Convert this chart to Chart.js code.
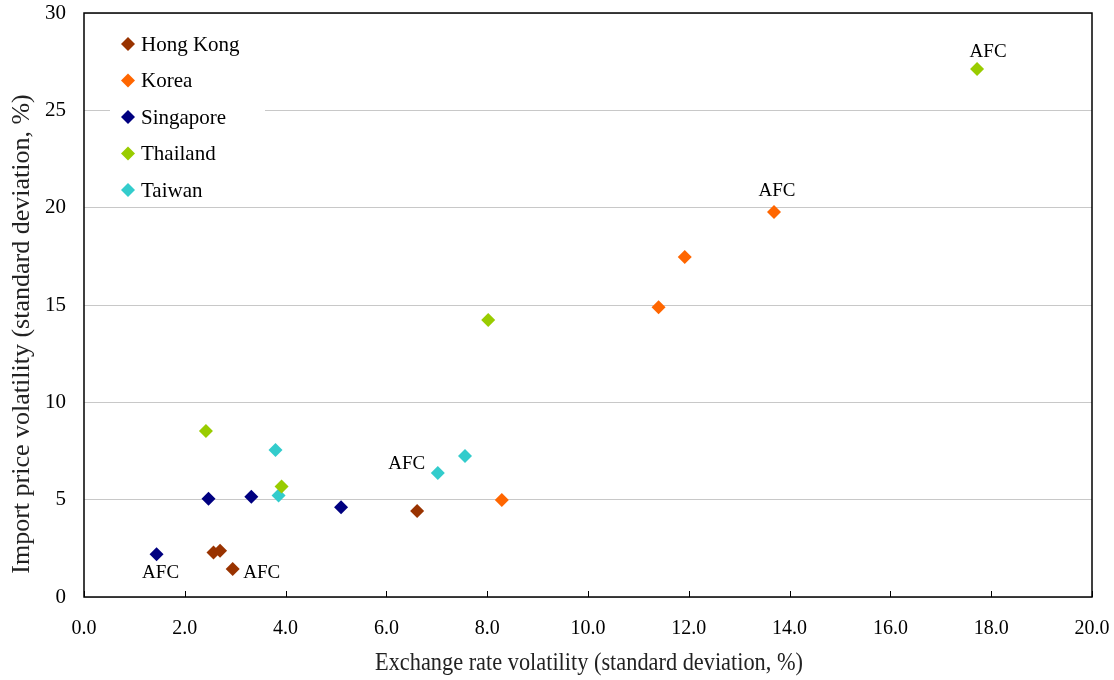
<!DOCTYPE html>
<html>
<head>
    <script src="https://cdn.jsdelivr.net/npm/chart.js"></script>
    <style>
        body { margin: 0; background: #fff; }
    </style>
</head>
<body>
    <div style="width:1114px; height:680px;">
        <canvas id="volChart" width="1114" height="680"></canvas>
    </div>
    <script>
        // values
        const seriesNames = ['Hong Kong', 'Korea', 'Singapore', 'Thailand', 'Taiwan'];
        const seriesColors = ['#993300', '#FF6600', '#000080', '#99CC00', '#33CCCC'];

        const hongKongX = [2.57, 2.70, 2.95, 6.61];
        const hongKongY = [2.28, 2.38, 1.44, 4.42];
        const koreaX = [8.29, 11.40, 11.92, 13.69];
        const koreaY = [4.98, 14.88, 17.47, 19.78];
        const singaporeX = [1.44, 2.47, 3.32, 5.10];
        const singaporeY = [2.19, 5.05, 5.15, 4.61];
        const thailandX = [2.42, 3.92, 8.02, 17.72];
        const thailandY = [8.53, 5.67, 14.23, 27.12];
        const taiwanX = [3.80, 3.86, 7.02, 7.56];
        const taiwanY = [7.55, 5.22, 6.37, 7.24];

        // which point of each series is the AFC one
        const afcIndex = [2, 3, 0, 3, 2];

        const xTicks = [0, 2, 4, 6, 8, 10, 12, 14, 16, 18, 20];
        const yTicks = [0, 5, 10, 15, 20, 25, 30];

        const xTitle = 'Exchange rate volatility (standard deviation, %)';
        const yTitle = 'Import price volatility (standard deviation, %)';

        const allX = [hongKongX, koreaX, singaporeX, thailandX, taiwanX];
        const allY = [hongKongY, koreaY, singaporeY, thailandY, taiwanY];

        // label offsets for the AFC notes (dx, dy from the marker)
        const afcOffsets = [[29, 4], [3, -21], [4, 19], [11, -17], [-31, -9]];

        const serif = "'Liberation Serif', 'DejaVu Serif', serif";

        const datasets = seriesNames.map((name, i) => ({
            label: name,
            data: allX[i].map((x, j) => ({ x: x, y: allY[i][j] })),
            pointStyle: 'rectRot',
            pointRadius: 7,
            pointHoverRadius: 7,
            pointBorderWidth: 0,
            backgroundColor: seriesColors[i],
            borderColor: seriesColors[i]
        }));

        // draw text squeezed to a given width (the original font is narrow)
        function narrowText(ctx, text, x, y, width) {
            const w = ctx.measureText(text).width;
            const k = Math.min(1, width / w);
            ctx.save();
            ctx.translate(x, y);
            ctx.scale(k, 1);
            ctx.fillText(text, 0, 0);
            ctx.restore();
        }

        const decorPlugin = {
            id: 'decor',
            afterDatasetsDraw(chart) {
                const ctx = chart.ctx;
                const a = chart.chartArea;
                const xs = chart.scales.x;
                const ys = chart.scales.y;
                ctx.save();

                // AFC notes
                ctx.fillStyle = '#000';
                ctx.font = '19px ' + serif;
                ctx.textAlign = 'center';
                ctx.textBaseline = 'middle';
                afcIndex.forEach((k, i) => {
                    const px = xs.getPixelForValue(allX[i][k]);
                    const py = ys.getPixelForValue(allY[i][k]);
                    ctx.fillText('AFC', px + afcOffsets[i][0], py + afcOffsets[i][1]);
                });

                // legend box inside the plot
                ctx.fillStyle = '#fff';
                ctx.fillRect(110, 22, 155, 182);
                ctx.font = '21px ' + serif;
                ctx.textAlign = 'left';
                seriesNames.forEach((name, i) => {
                    const cy = 44 + i * 36.5;
                    ctx.fillStyle = seriesColors[i];
                    ctx.beginPath();
                    ctx.moveTo(128, cy - 7);
                    ctx.lineTo(135, cy);
                    ctx.lineTo(128, cy + 7);
                    ctx.lineTo(121, cy);
                    ctx.closePath();
                    ctx.fill();
                    ctx.fillStyle = '#000';
                    ctx.fillText(name, 141, cy + 1);
                });

                // frame and inward x ticks
                ctx.strokeStyle = '#000';
                ctx.lineWidth = 1.5;
                ctx.strokeRect(a.left, a.top, a.right - a.left, a.bottom - a.top);
                ctx.lineWidth = 1;
                xTicks.forEach(v => {
                    const px = Math.round(xs.getPixelForValue(v)) + 0.5;
                    ctx.beginPath();
                    ctx.moveTo(px, a.bottom);
                    ctx.lineTo(px, a.bottom - 6);
                    ctx.stroke();
                });

                // axis titles
                ctx.fillStyle = '#222';
                ctx.font = '25px ' + serif;
                ctx.textAlign = 'center';
                narrowText(ctx, xTitle, (a.left + a.right) / 2 + 1, 663, 428);
                ctx.save();
                ctx.translate(22, 334);
                ctx.rotate(-Math.PI / 2);
                ctx.font = '26px ' + serif;
                ctx.fillText(yTitle, 0, 0);
                ctx.restore();

                ctx.restore();
            }
        };

        const config = {
            type: 'scatter',
            data: { datasets: datasets },
            options: {
                responsive: false,
                animation: false,
                layout: { padding: { top: 13, right: 22, left: 0, bottom: 0 } },
                plugins: {
                    legend: { display: false },
                    tooltip: { enabled: false }
                },
                scales: {
                    x: {
                        type: 'linear',
                        min: 0,
                        max: 20,
                        afterBuildTicks: s => { s.ticks = xTicks.map(v => ({ value: v })); },
                        afterFit: s => {
                            s.height = 83;
                            s.paddingLeft = 0;
                            s.paddingRight = 0;
                        },
                        grid: { display: false, drawTicks: false },
                        border: { display: false },
                        ticks: {
                            padding: 20,
                            color: '#000',
                            maxRotation: 0,
                            font: { family: serif, size: 20 },
                            callback: v => v.toFixed(1)
                        }
                    },
                    y: {
                        type: 'linear',
                        min: 0,
                        max: 30,
                        afterBuildTicks: s => { s.ticks = yTicks.map(v => ({ value: v })); },
                        afterFit: s => {
                            s.width = 84;
                            s.paddingTop = 0;
                            s.paddingBottom = 0;
                        },
                        grid: { color: '#c8c8c8', lineWidth: 1, drawTicks: false },
                        border: { display: false },
                        ticks: {
                            padding: 18,
                            color: '#000',
                            font: { family: serif, size: 21 }
                        }
                    }
                }
            },
            plugins: [decorPlugin]
        };

        new Chart(document.getElementById('volChart'), config);
    </script>
</body>
</html>
